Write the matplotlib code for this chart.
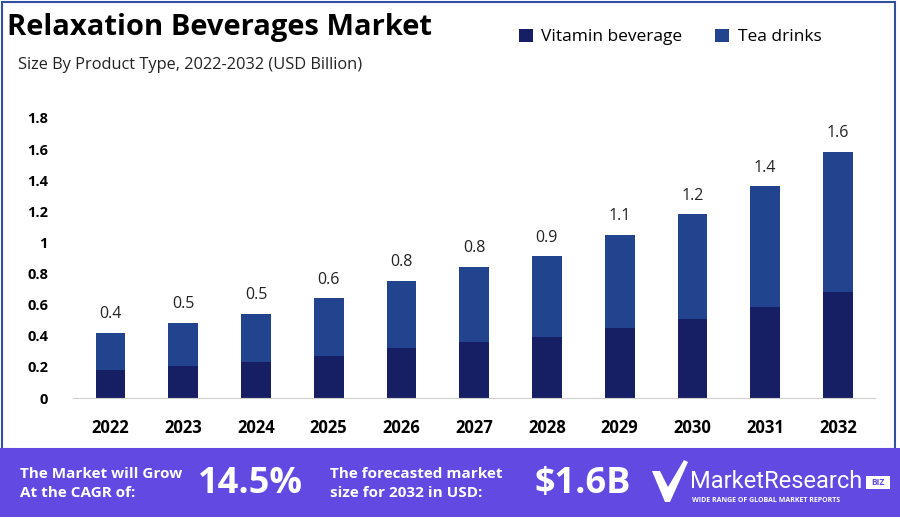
import matplotlib.pyplot as plt
from matplotlib.patches import Rectangle, Polygon

years = ['2022', '2023', '2024', '2025', '2026', '2027', '2028', '2029', '2030', '2031', '2032']
vitamin = [0.18, 0.205, 0.23, 0.27, 0.32, 0.36, 0.39, 0.45, 0.51, 0.585, 0.68]
totals = [0.42, 0.48, 0.54, 0.64, 0.75, 0.84, 0.91, 1.05, 1.18, 1.36, 1.58]
total_labels = ['0.4', '0.5', '0.5', '0.6', '0.8', '0.8', '0.9', '1.1', '1.2', '1.4', '1.6']
tea = [t - v for t, v in zip(totals, vitamin)]
yticks = [0, 0.2, 0.4, 0.6, 0.8, 1.0, 1.2, 1.4, 1.6, 1.8]
ytick_labels = ['0', '0.2', '0.4', '0.6', '0.8', '1', '1.2', '1.4', '1.6', '1.8']

c_vit = '#161f63'
c_tea = '#22448f'
c_band = '#6249e2'
font = 'Open Sans'

fig = plt.figure(figsize=(9, 5.19), dpi=100)
fig.patch.set_facecolor('white')

# frame around the chart area
fig.add_artist(Rectangle((2 / 900, 70 / 519), 893 / 900, 447 / 519, transform=fig.transFigure,
                         fill=False, edgecolor='#3050a0', linewidth=1.5))

ax = fig.add_axes([73 / 900, 121 / 519, 802 / 900, 280 / 519])
x = range(len(years))
ax.bar(x, vitamin, width=0.41, color=c_vit, label='Vitamin beverage')
ax.bar(x, tea, width=0.41, bottom=vitamin, color=c_tea, label='Tea drinks')
for i, (t, lab) in enumerate(zip(totals, total_labels)):
    ax.text(i, t + 0.07, lab, ha='center', va='bottom', fontsize=11.5, family=font, color='#222222')

ax.set_xlim(-0.515, 10.51)
ax.set_ylim(0, 1.8)
ax.set_yticks(yticks)
ax.set_yticklabels(ytick_labels, fontsize=10.5, fontweight='bold', family=font)
ax.set_xticks(list(x))
ax.set_xticklabels(years, fontsize=12, fontweight='bold', family=font)
ax.tick_params(axis='y', length=0, pad=18)
ax.tick_params(axis='x', length=0, pad=15)
for s in ['top', 'right', 'left']:
    ax.spines[s].set_visible(False)
ax.spines['bottom'].set_color('#d0d0d0')

fig.text(7 / 900, 1 - 27 / 519, 'Relaxation Beverages Market', fontsize=21, fontweight='bold',
         family=font, va='center', ha='left')
fig.text(18 / 900, 1 - 65 / 519, 'Size By Product Type, 2022-2032 (USD Billion)', fontsize=11.8,
         family=font, va='center', ha='left', color='#222222')

leg = fig.legend(loc='center left', bbox_to_anchor=(503 / 900, 1 - 37 / 519), ncol=2, frameon=False,
                 prop={'family': font, 'size': 12.5}, handlelength=0.8, handleheight=0.8,
                 columnspacing=1.9, handletextpad=0.5)

# bottom banner
fig.add_artist(Rectangle((0, 2 / 519), 1, 69 / 519, transform=fig.transFigure,
                         facecolor=c_band, edgecolor='none'))
fig.text(20 / 900, 1 - 474 / 519, 'The Market will Grow', color='white', fontsize=11,
         fontweight='bold', family=font, va='center')
fig.text(20 / 900, 1 - 493 / 519, 'At the CAGR of:', color='white', fontsize=11,
         fontweight='bold', family=font, va='center')
fig.text(198 / 900, 1 - 484 / 519, '14.5%', color='white', fontsize=26, fontweight='bold',
         family=font, va='center')
fig.text(330 / 900, 1 - 474 / 519, 'The forecasted market', color='white', fontsize=11,
         fontweight='bold', family=font, va='center')
fig.text(330 / 900, 1 - 493 / 519, 'size for 2032 in USD:', color='white', fontsize=11,
         fontweight='bold', family=font, va='center')
fig.text(535 / 900, 1 - 484 / 519, '$1.6B', color='white', fontsize=26, fontweight='bold',
         family=font, va='center')

# logo
check = [(652, 471), (660, 471), (668, 487), (684, 460), (688, 462), (670, 502), (665, 502)]
fig.add_artist(Polygon([(px / 900, 1 - py / 519) for px, py in check], closed=True,
                       transform=fig.transFigure, facecolor='white', edgecolor='none'))
fig.text(690 / 900, 1 - 482 / 519, 'MarketResearch', color='white', fontsize=17,
         family='Roboto', va='center')
fig.add_artist(Rectangle((866 / 900, 1 - 489 / 519), 24 / 900, 13 / 519, transform=fig.transFigure,
                         facecolor='white', edgecolor='none'))
fig.text(878 / 900, 1 - 482.5 / 519, 'BIZ', color=c_band, fontsize=6, fontweight='bold',
         family=font, va='center', ha='center')
fig.text(692 / 900, 1 - 501 / 519, 'WIDE RANGE OF GLOBAL MARKET REPORTS', color='white', fontsize=5,
         fontweight='bold', family=font, va='center')

fig.savefig('out.png', dpi=100)
